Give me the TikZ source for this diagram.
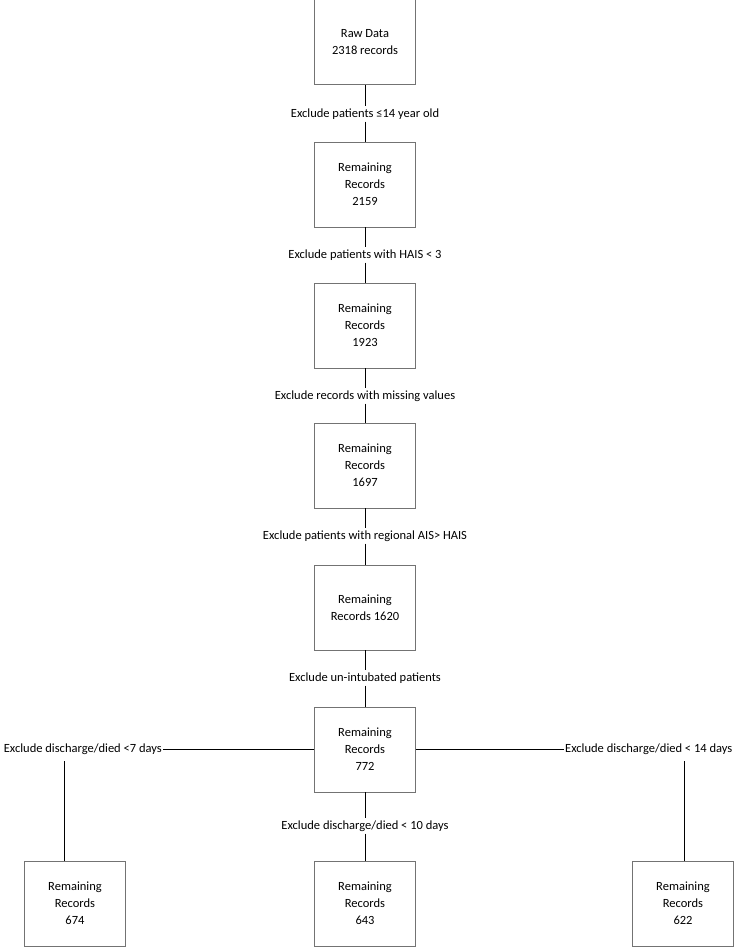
\documentclass[tikz,border=0pt]{standalone}
\usepackage{fontspec}
\setmainfont{Carlito}
\usetikzlibrary{positioning}

\begin{document}
\begin{tikzpicture}[
    x=1pt, y=-1pt,
    rec/.style={rectangle, draw=black!55, line width=0.8pt, minimum width=101pt, minimum height=85pt, align=center, font=\fontsize{12.5}{17}\selectfont},
    excl/.style={inner sep=2pt, font=\fontsize{12.5}{14}\selectfont},
    conn/.style={line width=0.9pt}
]
\useasboundingbox (0,0) rectangle (736,948);

% Main column
\node[rec] (r0) at (365,42)    {Raw Data\\2318 records};
\node[rec] (r1) at (365,184.5) {Remaining\\Records\\2159};
\node[rec] (r2) at (365,325.5) {Remaining\\Records\\1923};
\node[rec] (r3) at (365,465.5) {Remaining\\Records\\1697};
\node[rec] (r4) at (365,607.5) {Remaining\\Records 1620};
\node[rec] (r5) at (365,749.5) {Remaining\\Records\\772};

% Final groups
\node[rec] (g7)  at (75,903.5)  {Remaining\\Records\\674};
\node[rec] (g10) at (365,903.5) {Remaining\\Records\\643};
\node[rec] (g14) at (683,903.5) {Remaining\\Records\\622};

% Exclusion steps
\node[excl] (e1) at (365,114) {Exclude patients ≤14 year old};
\node[excl] (e2) at (365,255) {Exclude patients with HAIS < 3};
\node[excl] (e3) at (365,396) {Exclude records with missing values};
\node[excl] (e4) at (365,536) {Exclude patients with regional AIS> HAIS};
\node[excl] (e5) at (365,678) {Exclude un-intubated patients};
\node[excl, inner sep=1pt, anchor=east] (e7)  at (163,749) {Exclude discharge/died <7 days};
\node[excl] (e10) at (365,826) {Exclude discharge/died < 10 days};
\node[excl, inner sep=1pt, anchor=west] (e14) at (564,749) {Exclude discharge/died < 14 days};

% Connectors
\draw[conn] (r0) -- (e1) -- (r1);
\draw[conn] (r1) -- (e2) -- (r2);
\draw[conn] (r2) -- (e3) -- (r3);
\draw[conn] (r3) -- (e4) -- (r4);
\draw[conn] (r4) -- (e5) -- (r5);
\draw[conn] (r5) -- (e10) -- (g10);
\draw[conn] (r5.west |- e7) -- (e7);
\draw[conn] (r5.east |- e14) -- (e14);
\coordinate (d7) at (64,761);
\coordinate (d14) at (684,761);
\draw[conn] (d7) -- (d7 |- g7.north);
\draw[conn] (d14) -- (d14 |- g14.north);

\end{tikzpicture}
\end{document}
